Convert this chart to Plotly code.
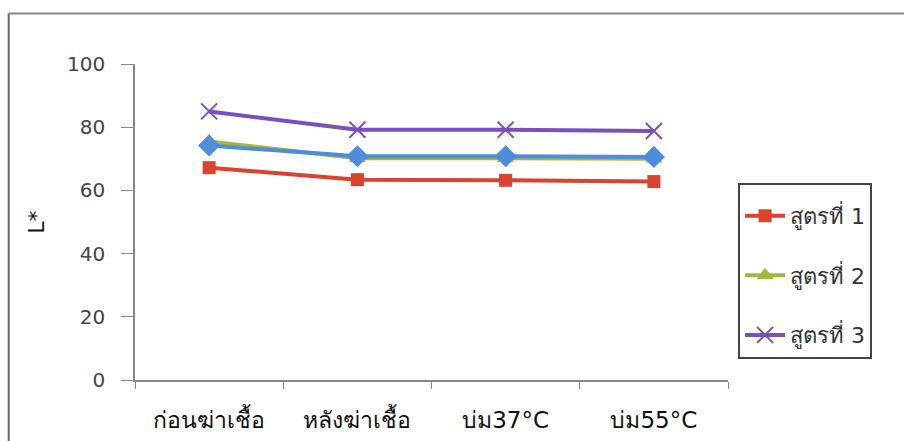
import plotly.graph_objects as go

categories = ["ก่อนฆ่าเชื้อ", "หลังฆ่าเชื้อ", "บ่ม37°C", "บ่ม55°C"]
s1 = [67.2, 63.4, 63.2, 62.8]
s2 = [75.5, 70.2, 70.2, 70.0]
s_blue = [74.2, 70.8, 70.8, 70.6]
s3 = [85.0, 79.2, 79.2, 78.8]
names = ["สูตรที่ 1", "สูตรที่ 2", "สูตรที่ 3"]
y_ticks = [0, 20, 40, 60, 80, 100]

FONT = "Tahoma, 'DejaVu Sans', Verdana, sans-serif"

fig = go.Figure()
fig.add_trace(go.Scatter(x=categories, y=s1, name=names[0], mode="lines+markers",
                         line=dict(color="#d9432f", width=4),
                         marker=dict(symbol="square", size=13, color="#d9432f"),
                         legendgroup="a"))
fig.add_trace(go.Scatter(x=categories, y=s2, name=names[1], mode="lines+markers",
                         line=dict(color="#a9b63c", width=4),
                         marker=dict(symbol="triangle-up", size=15, color="#a9b63c"),
                         legendgroup="b"))
fig.add_trace(go.Scatter(x=categories, y=s_blue, name="", mode="lines+markers",
                         line=dict(color="#4d8ddb", width=4),
                         marker=dict(symbol="diamond", size=17, color="#4d8ddb"),
                         showlegend=False))
fig.add_trace(go.Scatter(x=categories, y=s3, name=names[2], mode="lines+markers",
                         line=dict(color="#7b50bd", width=4),
                         marker=dict(symbol="x-thin-open", size=16,
                                     line=dict(color="#7b50bd", width=2)),
                         legendgroup="c"))

fig.update_layout(
    width=904, height=441,
    margin=dict(l=135, r=176, t=64, b=61),
    paper_bgcolor="white", plot_bgcolor="white",
    font=dict(family=FONT, color="#333333"),
    showlegend=True,
    legend=dict(x=1.017, y=0.625, xanchor="left", yanchor="top",
                bordercolor="#444444", borderwidth=2, bgcolor="white",
                font=dict(size=22, color="#333333"),
                title=dict(text=" ", font=dict(size=8)),
                tracegroupgap=28, itemwidth=40),
    xaxis=dict(type="category", showgrid=False, showline=True, linecolor="#888888",
               linewidth=1.5, ticks="outside", tickson="boundaries", ticklen=7,
               tickcolor="#888888", tickfont=dict(size=23, color="#111111"),
               ticklabelstandoff=19, automargin=False,
               range=[-0.5, 3.5]),
    yaxis=dict(range=[0, 100], tickvals=y_ticks, showgrid=False, showline=True,
               linecolor="#888888", linewidth=1.5, ticks="outside", ticklen=12,
               tickcolor="#888888", tickfont=dict(size=20, color="#444444"),
               ticklabelstandoff=12, automargin=False,
               zeroline=False,
               title=dict(text="L*", font=dict(size=22, color="#111111"), standoff=16)),
    shapes=[
        dict(type="line", xref="paper", yref="paper", x0=-0.213, x1=-0.213,
             y0=-0.2, y1=1.16, line=dict(color="#666666", width=2)),
        dict(type="line", xref="paper", yref="paper", x0=-0.213, x1=1.3,
             y0=1.16, y1=1.16, line=dict(color="#888888", width=2)),
    ],
)

fig.write_html("out.html")
